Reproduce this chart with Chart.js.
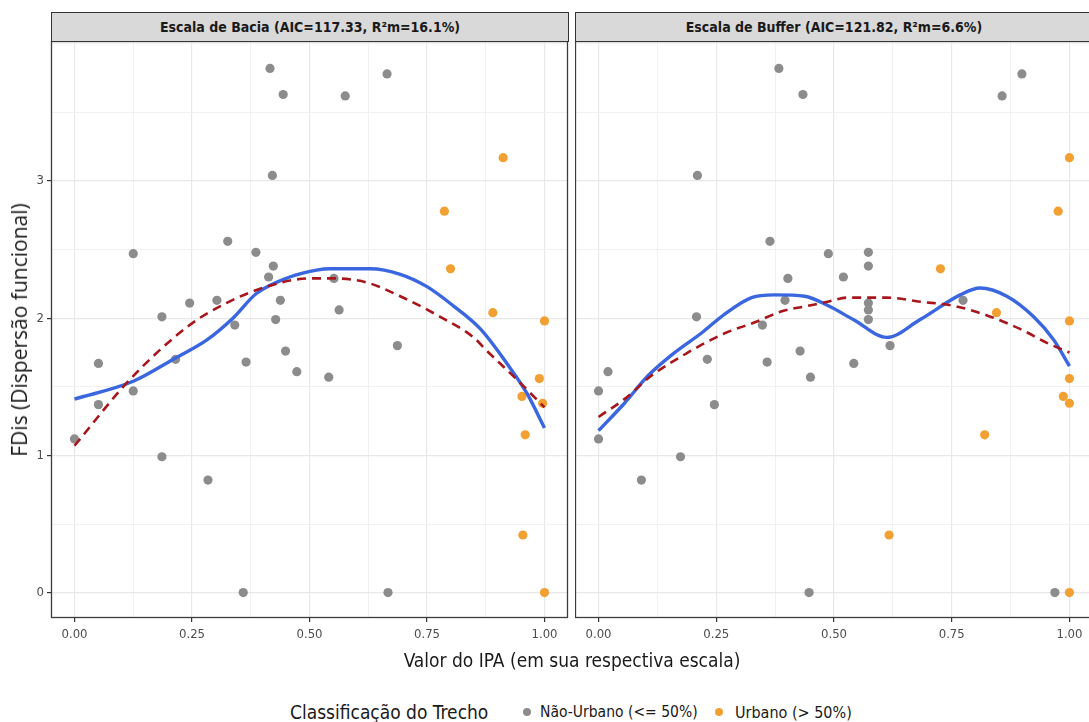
<!DOCTYPE html>
<html lang="pt">
<head>
<meta charset="utf-8">
<script src="https://cdn.jsdelivr.net/npm/chart.js@4.4.1/dist/chart.umd.min.js"></script>
<style>
  html, body { margin: 0; padding: 0; background: #ffffff; }
  #fig { position: relative; width: 1089px; height: 722px; overflow: hidden; background: #ffffff;
         font-family: 'DejaVu Sans Condensed', 'Liberation Sans', sans-serif; }
  canvas { position: absolute; }
  .strip { position: absolute; box-sizing: border-box; background: #d9d9d9; border: 1px solid #333333;
           display: flex; align-items: center; justify-content: center;
           font-size: 14px; font-weight: bold; color: #1a1a1a; white-space: nowrap; }
  .txt { position: absolute; white-space: nowrap; color: #1a1a1a; }
  #ytitle { left: 19px; top: 330px; transform: translate(-50%, -50%) rotate(-90deg);
            font-family: 'Open Sans', 'Noto Sans', sans-serif; font-size: 21px; }
  #xtitle { left: 572px; top: 660px; transform: translate(-50%, -50%); font-size: 19px; }
  .leg { position: absolute; top: 712px; transform: translateY(-50%); white-space: nowrap; color: #1a1a1a; }
  .key { position: absolute; top: 712px; width: 8px; height: 8px; border-radius: 50%; transform: translate(-50%, -50%); }
</style>
</head>
<body>
<div id="fig">
  <canvas id="cBacia" width="570" height="612" style="left:0px; top:41px; width:570px; height:612px;"></canvas>
  <canvas id="cBuffer" width="518" height="612" style="left:575px; top:41px; width:518px; height:612px;"></canvas>
  <div class="strip" style="left:51px; top:12px; width:518px; height:30px;">Escala de Bacia (AIC=117.33, R²m=16.1%)</div>
  <div class="strip" style="left:575px; top:12px; width:518px; height:30px;">Escala de Buffer (AIC=121.82, R²m=6.6%)</div>
  <div class="txt" id="ytitle">FDis (Dispersão funcional)</div>
  <div class="txt" id="xtitle">Valor do IPA (em sua respectiva escala)</div>
  <div class="leg" style="left:290px; font-size:19px;">Classificação do Trecho</div>
  <div class="key" style="left:527px; background:#8c8c8c;"></div>
  <div class="leg" style="left:540px; font-size:15.5px;">Não-Urbano (&lt;= 50%)</div>
  <div class="key" style="left:719px; background:#f3a033;"></div>
  <div class="leg" style="left:735px; font-size:16px;">Urbano (&gt; 50%)</div>
</div>
<script>
// Axis ticks
const xTickLabels = ['0.00', '0.25', '0.50', '0.75', '1.00'];
const yTickLabels = ['0', '1', '2', '3'];

// Bacia scale: stream reaches, IPA value and FDis
const baciaNaoUrbanoX = [0.000, 0.051, 0.051, 0.125, 0.125, 0.186, 0.186, 0.215, 0.245, 0.284, 0.303, 0.326, 0.341, 0.359, 0.365, 0.386,
                         0.413, 0.416, 0.423, 0.421, 0.428, 0.438, 0.444, 0.449, 0.473, 0.541, 0.552, 0.563, 0.576, 0.665, 0.667, 0.687];
const baciaNaoUrbanoY = [1.12, 1.67, 1.37, 2.47, 1.47, 2.01, 0.99, 1.70, 2.11, 0.82, 2.13, 2.56, 1.95, 0.00, 1.68, 2.48,
                         2.30, 3.82, 2.38, 3.04, 1.99, 2.13, 3.63, 1.76, 1.61, 1.57, 2.29, 2.06, 3.62, 3.78, 0.00, 1.80];
const baciaUrbanoX = [0.787, 0.800, 0.890, 0.912, 0.952, 0.954, 0.959, 0.989, 0.996, 1.000, 1.000];
const baciaUrbanoY = [2.78, 2.36, 2.04, 3.17, 1.43, 0.42, 1.15, 1.56, 1.38, 1.98, 0.00];

// Bacia scale: LOESS trend (solid) and quadratic model (dashed)
const baciaLoessX = [0.000, 0.125, 0.215, 0.281, 0.337, 0.387, 0.458, 0.515, 0.544, 0.629, 0.693, 0.750, 0.806, 0.864, 0.920, 0.963, 1.000];
const baciaLoessY = [1.41, 1.54, 1.71, 1.84, 2.00, 2.18, 2.30, 2.35, 2.36, 2.36, 2.32, 2.23, 2.09, 1.92, 1.67, 1.45, 1.20];
const baciaQuadX = [0.000, 0.117, 0.245, 0.323, 0.409, 0.501, 0.550, 0.622, 0.693, 0.778, 0.849, 0.878, 0.942, 1.000];
const baciaQuadY = [1.07, 1.55, 1.95, 2.11, 2.23, 2.29, 2.29, 2.26, 2.16, 2.01, 1.86, 1.76, 1.55, 1.35];

// Buffer scale: stream reaches, IPA value and FDis
const bufferNaoUrbanoX = [0.000, 0.020, 0.000, 0.091, 0.174, 0.208, 0.210, 0.231, 0.246, 0.348, 0.358, 0.364, 0.383, 0.396, 0.402, 0.428,
                          0.434, 0.447, 0.450, 0.488, 0.520, 0.542, 0.573, 0.573, 0.573, 0.573, 0.573, 0.619, 0.774, 0.857, 0.899, 0.969];
const bufferNaoUrbanoY = [1.47, 1.61, 1.12, 0.82, 0.99, 2.01, 3.04, 1.70, 1.37, 1.95, 1.68, 2.56, 3.82, 2.13, 2.29, 1.76,
                          3.63, 0.00, 1.57, 2.47, 2.30, 1.67, 2.48, 2.38, 2.11, 2.06, 1.99, 1.80, 2.13, 3.62, 3.78, 0.00];
const bufferUrbanoX = [0.976, 0.726, 0.845, 1.000, 0.987, 1.000, 0.820, 0.617, 1.000, 1.000, 1.000];
const bufferUrbanoY = [2.78, 2.36, 2.04, 3.17, 1.43, 1.38, 1.15, 0.42, 1.56, 1.98, 0.00];

// Buffer scale: LOESS trend (solid) and quadratic model (dashed)
const bufferLoessX = [0.000, 0.055, 0.105, 0.162, 0.218, 0.268, 0.325, 0.374, 0.438, 0.488, 0.541, 0.612, 0.683, 0.768, 0.810, 0.867, 0.924, 0.967, 1.000];
const bufferLoessY = [1.18, 1.38, 1.58, 1.75, 1.89, 2.03, 2.15, 2.17, 2.16, 2.09, 1.99, 1.86, 1.99, 2.17, 2.22, 2.16, 2.01, 1.84, 1.65];
const bufferQuadX = [0.000, 0.055, 0.112, 0.190, 0.268, 0.332, 0.389, 0.445, 0.487, 0.527, 0.612, 0.683, 0.754, 0.825, 0.896, 0.952, 1.000];
const bufferQuadY = [1.28, 1.41, 1.58, 1.75, 1.89, 1.97, 2.05, 2.09, 2.12, 2.15, 2.15, 2.12, 2.09, 2.02, 1.92, 1.82, 1.75];

const COL_NAO_URBANO = '#8c8c8c';
const COL_URBANO = '#f3a033';
const COL_LOESS = '#3a66e0';
const COL_QUAD = '#a8161c';
const GRID_MAJOR = '#e8e8e8';
const GRID_MINOR = '#f1f1f1';
const TICK_FONT = { family: "'DejaVu Sans Condensed', 'Liberation Sans', sans-serif", size: 13 };

const pairs = (xs, ys) => xs.map((x, i) => ({ x: x, y: ys[i] }));
const near = (a, b) => Math.abs(a - b) < 1e-9;

function xLabel(v) {
  const hit = xTickLabels.find(t => near(parseFloat(t), v));
  return hit === undefined ? '' : hit;
}
function yLabel(v) {
  const hit = yTickLabels.find(t => near(parseFloat(t), v));
  return hit === undefined ? '' : hit;
}
const isMajorX = v => xLabel(v) !== '';
const isMajorY = v => yLabel(v) !== '';

// Panel outline drawn above the data, like a bordered facet
const panelBorder = {
  id: 'panelBorder',
  afterDraw(chart) {
    const a = chart.chartArea, ctx = chart.ctx;
    ctx.save();
    ctx.strokeStyle = '#3c3c3c';
    ctx.lineWidth = 1.3;
    ctx.strokeRect(a.left + 0.5, a.top + 0.5, a.right - a.left - 1, a.bottom - a.top - 1);
    ctx.restore();
  }
};

function makePanel(canvasId, nuX, nuY, uX, uY, loX, loY, qX, qY, showYAxis) {
  return new Chart(document.getElementById(canvasId), {
    type: 'scatter',
    data: {
      datasets: [
        { label: 'Quadrático', data: pairs(qX, qY), showLine: true, borderColor: COL_QUAD, borderWidth: 2.6,
          borderDash: [9, 6], pointRadius: 0, cubicInterpolationMode: 'monotone', fill: false, order: 0 },
        { label: 'LOESS', data: pairs(loX, loY), showLine: true, borderColor: COL_LOESS, borderWidth: 3.4,
          pointRadius: 0, cubicInterpolationMode: 'monotone', fill: false, order: 1 },
        { label: 'Urbano (> 50%)', data: pairs(uX, uY), backgroundColor: COL_URBANO, borderColor: COL_URBANO,
          borderWidth: 0, pointRadius: 4.6, order: 2 },
        { label: 'Não-Urbano (<= 50%)', data: pairs(nuX, nuY), backgroundColor: COL_NAO_URBANO, borderColor: COL_NAO_URBANO,
          borderWidth: 0, pointRadius: 4.6, order: 3 }
      ]
    },
    options: {
      responsive: false,
      animation: false,
      events: [],
      layout: { autoPadding: false, padding: { left: 0, right: showYAxis ? 2 : 0, top: 0, bottom: 0 } },
      plugins: { legend: { display: false }, tooltip: { enabled: false } },
      scales: {
        x: {
          type: 'linear', min: -0.05, max: 1.05,
          border: { display: false },
          grid: {
            drawTicks: true, tickLength: 4,
            color: ctx => isMajorX(ctx.tick.value) ? GRID_MAJOR : GRID_MINOR,
            lineWidth: ctx => isMajorX(ctx.tick.value) ? 1.2 : 1,
            tickColor: ctx => isMajorX(ctx.tick.value) ? '#333333' : 'rgba(0,0,0,0)'
          },
          ticks: { stepSize: 0.125, includeBounds: false, autoSkip: false, maxRotation: 0, padding: 5,
                   color: '#4d4d4d', font: TICK_FONT, callback: v => xLabel(v) },
          afterFit(scale) { scale.height = 35; scale.paddingLeft = 0; scale.paddingRight = 0; }
        },
        y: {
          type: 'linear', min: -0.185, max: 4.02,
          border: { display: false },
          grid: {
            drawTicks: showYAxis, tickLength: 4,
            color: ctx => isMajorY(ctx.tick.value) ? GRID_MAJOR : GRID_MINOR,
            lineWidth: ctx => isMajorY(ctx.tick.value) ? 1.2 : 1,
            tickColor: ctx => isMajorY(ctx.tick.value) ? '#333333' : 'rgba(0,0,0,0)'
          },
          ticks: { display: showYAxis, stepSize: 0.5, includeBounds: false, autoSkip: false, padding: 3,
                   color: '#4d4d4d', font: TICK_FONT, callback: v => yLabel(v) },
          afterFit(scale) { scale.width = showYAxis ? 51 : 0; scale.paddingTop = 0; scale.paddingBottom = 0; }
        }
      }
    },
    plugins: [panelBorder]
  });
}

makePanel('cBacia', baciaNaoUrbanoX, baciaNaoUrbanoY, baciaUrbanoX, baciaUrbanoY,
          baciaLoessX, baciaLoessY, baciaQuadX, baciaQuadY, true);
makePanel('cBuffer', bufferNaoUrbanoX, bufferNaoUrbanoY, bufferUrbanoX, bufferUrbanoY,
          bufferLoessX, bufferLoessY, bufferQuadX, bufferQuadY, false);
</script>
</body>
</html>
